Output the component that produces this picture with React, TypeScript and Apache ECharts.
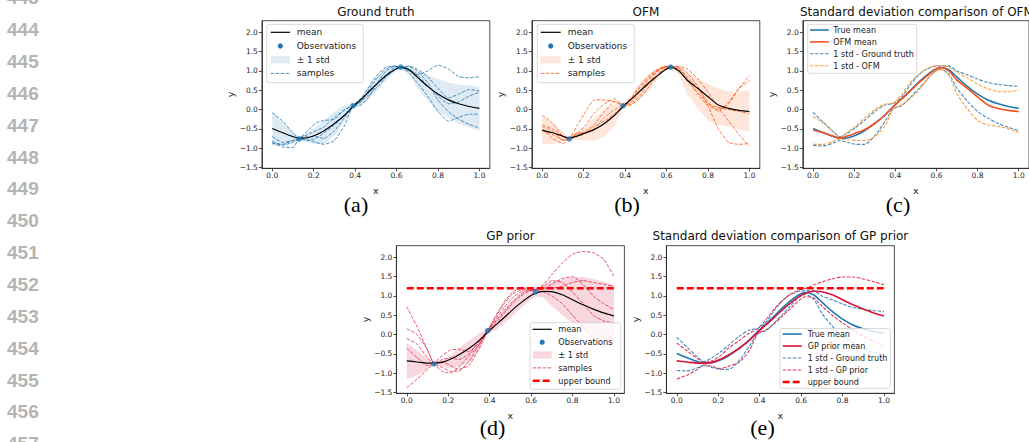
import React, { useEffect, useRef } from 'react';
import * as echarts from 'echarts';

// ---------- data ----------
const xs = [0, 0.05, 0.10, 0.13, 0.17, 0.21, 0.25, 0.30, 0.35, 0.39, 0.43, 0.47, 0.51, 0.55, 0.59, 0.62, 0.66, 0.70, 0.75, 0.80, 0.85, 0.90, 0.95, 1.00];
const xTicks = [0, 0.2, 0.4, 0.6, 0.8, 1.0];
const yTicks = [-1.5, -1.0, -0.5, 0, 0.5, 1.0, 1.5, 2.0];
const obsX = [0.13, 0.39, 0.62];
const obsY = [-0.76, 0.10, 1.10];
const upperBound = 1.2;

const gtMean = [-0.49, -0.60, -0.70, -0.74, -0.73, -0.66, -0.55, -0.36, -0.14, 0.08, 0.27, 0.48, 0.69, 0.88, 1.03, 1.09, 1.03, 0.84, 0.60, 0.40, 0.25, 0.15, 0.08, 0.03];
const gtUpper = [-0.07, -0.33, -0.58, -0.70, -0.60, -0.45, -0.28, -0.05, 0.12, 0.16, 0.32, 0.62, 0.88, 1.04, 1.12, 1.13, 1.13, 1.00, 0.90, 0.79, 0.70, 0.65, 0.62, 0.60];
const gtLower = [-0.93, -0.94, -0.86, -0.80, -0.85, -0.90, -0.90, -0.68, -0.30, 0.02, 0.10, 0.30, 0.52, 0.75, 0.97, 1.04, 0.92, 0.55, 0.22, -0.05, -0.22, -0.36, -0.46, -0.54];

const ofmMean = [-0.53, -0.60, -0.69, -0.74, -0.68, -0.60, -0.52, -0.36, -0.14, 0.08, 0.27, 0.47, 0.67, 0.85, 1.02, 1.09, 1.00, 0.76, 0.55, 0.33, 0.12, 0.03, -0.02, -0.05];
const ofmUpper = [-0.18, -0.35, -0.58, -0.72, -0.58, -0.42, -0.22, 0.00, 0.14, 0.17, 0.38, 0.68, 0.90, 1.05, 1.13, 1.14, 1.10, 0.96, 0.82, 0.66, 0.54, 0.47, 0.46, 0.50];
const ofmLower = [-0.90, -0.90, -0.82, -0.76, -0.78, -0.80, -0.80, -0.70, -0.42, 0.02, 0.12, 0.28, 0.48, 0.74, 0.98, 1.04, 0.90, 0.40, 0.02, -0.28, -0.40, -0.43, -0.50, -0.59];

const gpMean = [-0.68, -0.71, -0.74, -0.74, -0.72, -0.64, -0.53, -0.36, -0.15, 0.06, 0.25, 0.44, 0.64, 0.82, 0.98, 1.07, 1.12, 1.11, 1.03, 0.90, 0.77, 0.66, 0.56, 0.48];
const gpUpper = [-0.22, -0.42, -0.62, -0.72, -0.68, -0.55, -0.35, -0.16, 0.04, 0.15, 0.38, 0.66, 0.88, 1.05, 1.15, 1.19, 1.28, 1.36, 1.44, 1.49, 1.49, 1.44, 1.37, 1.29];
const gpLower = [-1.15, -1.05, -0.90, -0.79, -0.82, -0.88, -0.82, -0.72, -0.42, 0.02, 0.12, 0.28, 0.48, 0.68, 0.88, 0.98, 0.95, 0.74, 0.50, 0.30, 0.12, -0.04, -0.17, -0.30];

const gtSample1 = [-0.08, -0.30, -0.60, -0.74, -0.55, -0.35, -0.28, -0.25, 0.00, 0.10, 0.30, 0.62, 0.92, 1.10, 1.13, 1.10, 1.00, 0.90, 1.00, 1.15, 1.05, 0.85, 0.82, 0.85];
const gtSample2 = [-0.82, -0.92, -0.85, -0.75, -0.70, -0.70, -0.75, -0.55, -0.20, 0.08, 0.22, 0.40, 0.60, 0.85, 1.02, 1.10, 1.12, 1.05, 0.85, 0.55, 0.30, 0.40, 0.52, 0.48];
const gtSample3 = [-0.85, -0.97, -0.98, -0.76, -0.78, -0.85, -0.90, -0.80, -0.40, 0.10, 0.12, 0.35, 0.72, 1.00, 1.12, 1.10, 0.95, 0.70, 0.35, -0.05, -0.30, -0.20, -0.12, -0.12];
const gtSample4 = [-0.88, -0.90, -0.80, -0.75, -0.80, -0.75, -0.60, -0.40, -0.15, 0.10, 0.20, 0.55, 0.85, 1.05, 1.12, 1.11, 1.12, 1.00, 0.70, 0.25, -0.05, -0.25, -0.38, -0.48];
const gtSample5 = [-0.70, -0.85, -0.80, -0.74, -0.65, -0.55, -0.45, -0.20, 0.00, 0.10, 0.28, 0.50, 0.70, 0.90, 1.08, 1.10, 1.05, 0.90, 0.62, 0.35, 0.15, 0.20, 0.35, 0.45];

const ofmSample1 = [-0.15, -0.35, -0.70, -0.74, -0.40, -0.05, 0.25, 0.25, 0.20, 0.10, 0.30, 0.60, 0.85, 1.02, 1.12, 1.10, 1.05, 0.85, 0.55, 0.20, -0.05, 0.20, 0.55, 0.88];
const ofmSample2 = [-0.45, -0.55, -0.80, -0.76, -0.65, -0.55, -0.40, -0.05, 0.20, 0.12, 0.15, 0.35, 0.65, 0.95, 1.10, 1.11, 1.12, 1.05, 0.80, 0.45, 0.05, -0.30, -0.65, -0.95];
const ofmSample3 = [-0.50, -0.75, -0.88, -0.74, -0.60, -0.62, -0.50, -0.20, 0.00, 0.10, 0.12, 0.28, 0.55, 0.85, 1.08, 1.10, 1.10, 0.95, 0.60, 0.10, -0.50, -0.85, -0.90, -0.88];
const ofmSample4 = [-0.55, -0.65, -0.78, -0.75, -0.70, -0.60, -0.45, -0.30, -0.10, 0.08, 0.30, 0.55, 0.80, 1.00, 1.10, 1.12, 1.08, 0.80, 0.40, 0.10, 0.00, 0.15, 0.55, 0.75];
const ofmSample5 = [-0.40, -0.50, -0.70, -0.74, -0.62, -0.40, -0.10, 0.15, 0.28, 0.12, 0.20, 0.45, 0.75, 0.98, 1.12, 1.10, 1.00, 0.75, 0.45, 0.15, 0.05, 0.00, -0.05, -0.10];

const gpSample1 = [0.72, 0.20, -0.40, -0.75, -0.85, -0.95, -0.95, -0.70, -0.25, 0.10, 0.45, 0.80, 1.05, 1.15, 1.18, 1.15, 1.30, 1.55, 1.85, 2.08, 2.15, 2.12, 1.95, 1.50];
const gpSample2 = [-1.38, -1.15, -0.90, -0.75, -0.55, -0.40, -0.38, -0.45, -0.20, 0.10, 0.40, 0.70, 0.95, 1.10, 1.15, 1.15, 1.20, 1.30, 1.45, 1.50, 1.30, 1.00, 0.80, 0.65];
const gpSample3 = [0.15, 0.00, -0.40, -0.75, -0.95, -1.00, -0.85, -0.55, -0.25, 0.10, 0.50, 0.85, 1.10, 1.20, 1.20, 1.15, 1.10, 1.00, 0.80, 0.50, 0.20, -0.10, -0.35, 0.10];
const gpSample4 = [-0.10, -0.25, -0.60, -0.75, -0.70, -0.80, -0.90, -0.80, -0.35, 0.10, 0.35, 0.60, 0.85, 1.05, 1.15, 1.17, 1.25, 1.40, 1.35, 1.10, 0.80, 0.50, 0.35, 0.30];
const gpSample5 = [-0.35, -0.60, -0.80, -0.75, -0.65, -0.60, -0.65, -0.50, -0.15, 0.10, 0.30, 0.55, 0.80, 1.00, 1.12, 1.15, 1.18, 1.20, 1.25, 1.35, 1.40, 1.35, 1.30, 1.25];

const gtSamples = [gtSample1, gtSample2, gtSample3, gtSample4, gtSample5];
const ofmSamples = [ofmSample1, ofmSample2, ofmSample3, ofmSample4, ofmSample5];
const gpSamples = [gpSample1, gpSample2, gpSample3, gpSample4, gpSample5];

const titles = ['Ground truth', 'OFM', 'Standard deviation comparison of OFM', 'GP prior', 'Standard deviation comparison of GP prior'];
const captions = ['(a)', '(b)', '(c)', '(d)', '(e)'];
const lineNumbers = [443, 444, 445, 446, 447, 448, 449, 450, 451, 452, 453, 454, 455, 456, 457];

// ---------- styling ----------
const FONT = '"DejaVu Sans", sans-serif';
const BLUE = '#1f77b4';
const BLUE_BAND = 'rgba(31,119,180,0.15)';
const ORANGE_BAND = 'rgba(250,128,60,0.19)';
const PINK_BAND = 'rgba(220,20,60,0.17)';
const OFM_LINE = '#f5501f';
const OFM_STD = '#ff9f40';
const OFM_SAMPLE = '#ff4500';
const CRIMSON = '#dc143c';
const RED = '#ff0000';
const DASH = [3.5, 1.5];
const BOUND_DASH = [7, 3];

const grids = [
  { left: 261.9, top: 20.7, width: 227.9, height: 147.6 },
  { left: 531.9, top: 20.7, width: 227.9, height: 147.6 },
  { left: 802.8, top: 20.7, width: 228.2, height: 147.6 },
  { left: 396.4, top: 245.7, width: 228.0, height: 147.6 },
  { left: 666.4, top: 245.7, width: 228.0, height: 147.6 },
];

const fmt = (v: number) => (v < 0 ? '\u2212' + Math.abs(v).toFixed(1) : v.toFixed(1));

function pts(ys: number[]) {
  return xs.map((x, i) => [x, ys[i]]);
}

function line(idx: number, name: string, ys: number[], color: string, width: number, dash: any, opacity = 1, z = 3, smooth: any = 0.25) {
  return {
    type: 'line', name, xAxisIndex: idx, yAxisIndex: idx, data: pts(ys), showSymbol: false, symbol: 'none',
    smooth, z, silent: true,
    lineStyle: { color, width, type: dash || 'solid', opacity },
  };
}

function band(idx: number, lo: number[], hi: number[], color: string) {
  return {
    type: 'custom', xAxisIndex: idx, yAxisIndex: idx, z: 1, silent: true,
    data: xs.map((x, i) => [x, lo[i], hi[i]]),
    encode: { x: 0, y: [1, 2] },
    renderItem: (params: any, api: any) => {
      if (params.dataIndex !== 0) return null;
      const p: number[][] = [];
      for (let i = 0; i < xs.length; i++) p.push(api.coord([xs[i], hi[i]]));
      for (let i = xs.length - 1; i >= 0; i--) p.push(api.coord([xs[i], lo[i]]));
      return { type: 'polygon', shape: { points: p }, style: { fill: color } };
    },
  };
}

function obs(idx: number) {
  return {
    type: 'scatter', xAxisIndex: idx, yAxisIndex: idx, z: 6, silent: true,
    data: obsX.map((x, i) => [x, obsY[i]]), symbolSize: 5.5, itemStyle: { color: BLUE },
  };
}

function bound(idx: number) {
  return {
    type: 'line', xAxisIndex: idx, yAxisIndex: idx, z: 5, silent: true, showSymbol: false, symbol: 'none',
    data: [[0, upperBound], [1, upperBound]],
    lineStyle: { color: RED, width: 2.5, type: BOUND_DASH },
  };
}

type LegItem = { label: string; kind: 'line' | 'dot' | 'rect'; color: string; width?: number; dash?: number[]; opacity?: number };

function legend(bx: number, by: number, bw: number, bh: number, y0: number, gap: number, hx0: number, hx1: number, tx: number, fs: number, items: LegItem[]) {
  const children: any[] = [
    { type: 'rect', z: 100, shape: { x: bx, y: by, width: bw, height: bh, r: 2 }, style: { fill: 'rgba(255,255,255,0.8)', stroke: '#cfcfcf', lineWidth: 0.8 } },
  ];
  items.forEach((it, i) => {
    const cy = y0 + i * gap;
    if (it.kind === 'line') {
      children.push({ type: 'line', z: 101, shape: { x1: hx0, y1: cy, x2: hx1, y2: cy }, style: { stroke: it.color, lineWidth: it.width ?? 1.2, lineDash: it.dash ?? null, opacity: it.opacity ?? 1 } });
    } else if (it.kind === 'dot') {
      children.push({ type: 'circle', z: 101, shape: { cx: (hx0 + hx1) / 2, cy, r: 2.6 }, style: { fill: it.color } });
    } else {
      children.push({ type: 'rect', z: 101, shape: { x: hx0, y: cy - 3.6, width: hx1 - hx0, height: 7.2 }, style: { fill: it.color } });
    }
    children.push({ type: 'text', z: 101, x: tx, y: cy, style: { text: it.label, fill: '#222', fontSize: fs, fontFamily: FONT, textAlign: 'left', textVerticalAlign: 'middle', align: 'left', verticalAlign: 'middle' } });
  });
  return { type: 'group', children };
}

function text(t: string, x: number, y: number, fs: number, family: string, fill = '#000', weight = 'normal', align = 'center') {
  return { type: 'text', z: 50, x, y, style: { text: t, fill, fontSize: fs, fontFamily: family, fontWeight: weight, textAlign: align, textVerticalAlign: 'middle', align, verticalAlign: 'middle' } };
}

function buildOption() {
  const xAxis = grids.map((_, i) => ({
    gridIndex: i, type: 'value', min: -0.05, max: 1.05,
    name: 'x', nameLocation: 'middle', nameGap: 17,
    nameTextStyle: { fontSize: 9.5, color: '#222', fontFamily: FONT },
    axisLine: { show: true, onZero: false, lineStyle: { color: '#222', width: 0.8 } },
    axisTick: { show: true, inside: false, length: 3, customValues: xTicks, lineStyle: { color: '#222', width: 0.8 } },
    axisLabel: { show: true, customValues: xTicks, formatter: fmt, fontSize: 7.5, color: '#262626', fontFamily: FONT, margin: 3.5 },
    splitLine: { show: false },
  }));
  const yAxis = grids.map((_, i) => ({
    gridIndex: i, type: 'value', min: -1.52, max: 2.3,
    name: 'y', nameLocation: 'middle', nameGap: 25,
    nameTextStyle: { fontSize: 9.5, color: '#222', fontFamily: FONT },
    axisLine: { show: true, onZero: false, lineStyle: { color: '#222', width: 0.8 } },
    axisTick: { show: true, inside: false, length: 3, customValues: yTicks, lineStyle: { color: '#222', width: 0.8 } },
    axisLabel: { show: true, customValues: yTicks, formatter: fmt, fontSize: 7.5, color: '#262626', fontFamily: FONT, margin: 4 },
    splitLine: { show: false },
  }));

  const series: any[] = [];
  // (a) ground truth
  series.push(band(0, gtLower, gtUpper, BLUE_BAND));
  gtSamples.forEach((s) => series.push(line(0, 'samples', s, BLUE, 1, DASH, 0.8, 2, 0.15)));
  series.push(line(0, 'mean', gtMean, '#000', 1.2, null, 1, 4));
  series.push(obs(0));
  // (b) OFM
  series.push(band(1, ofmLower, ofmUpper, ORANGE_BAND));
  ofmSamples.forEach((s) => series.push(line(1, 'samples', s, OFM_SAMPLE, 1, DASH, 0.72, 2, 0.15)));
  series.push(line(1, 'mean', ofmMean, '#000', 1.2, null, 1, 4));
  series.push(obs(1));
  // (c) std comparison OFM
  series.push(line(2, 'True mean', gtMean, BLUE, 1.6, null, 1, 4));
  series.push(line(2, 'OFM mean', ofmMean, OFM_LINE, 1.6, null, 1, 4));
  series.push(line(2, '1 std - Ground truth', gtUpper, BLUE, 1.1, DASH, 0.85, 3));
  series.push(line(2, '1 std - Ground truth', gtLower, BLUE, 1.1, DASH, 0.85, 3));
  series.push(line(2, '1 std - OFM', ofmUpper, OFM_STD, 1.1, DASH, 1, 3));
  series.push(line(2, '1 std - OFM', ofmLower, OFM_STD, 1.1, DASH, 1, 3));
  // (d) GP prior
  series.push(band(3, gpLower, gpUpper, PINK_BAND));
  gpSamples.forEach((s) => series.push(line(3, 'samples', s, CRIMSON, 1, DASH, 0.72, 2, 0.15)));
  series.push(line(3, 'mean', gpMean, '#000', 1.2, null, 1, 4));
  series.push(obs(3));
  series.push(bound(3));
  // (e) std comparison GP prior
  series.push(line(4, 'True mean', gtMean, BLUE, 1.6, null, 1, 4));
  series.push(line(4, 'GP prior mean', gpMean, CRIMSON, 1.6, null, 1, 4));
  series.push(line(4, '1 std - Ground truth', gtUpper, BLUE, 1.1, DASH, 0.85, 3));
  series.push(line(4, '1 std - Ground truth', gtLower, BLUE, 1.1, DASH, 0.85, 3));
  series.push(line(4, '1 std - GP prior', gpUpper, CRIMSON, 1.1, DASH, 0.85, 3));
  series.push(line(4, '1 std - GP prior', gpLower, CRIMSON, 1.1, DASH, 0.85, 3));
  series.push(bound(4));

  const graphics: any[] = [];
  const titlePos = [[375.9, 11.5], [645.9, 11.5], [916.9, 11.5], [510.4, 236], [780.4, 236]];
  titles.forEach((t, i) => graphics.push(text(t, titlePos[i][0], titlePos[i][1], 12, FONT, '#111')));
  const capPos = [[356, 204], [627, 204], [898, 204], [492.5, 427.5], [762.5, 427.5]];
  captions.forEach((c, i) => graphics.push(text(c, capPos[i][0], capPos[i][1], 22, '"Liberation Serif", "Times New Roman", serif')));
  lineNumbers.forEach((n, i) => graphics.push(text(String(n), 7, -2.2 + i * 31.85, 19, '"Liberation Sans", Arial, sans-serif', '#b4b4b4', 'bold', 'left')));

  graphics.push(legend(266.7, 24.3, 96.6, 58.4, 32.3, 13.7, 270.7, 290, 296.7, 9, [
    { label: 'mean', kind: 'line', color: '#000' },
    { label: 'Observations', kind: 'dot', color: BLUE },
    { label: '\u00b1 1 std', kind: 'rect', color: BLUE_BAND },
    { label: 'samples', kind: 'line', color: BLUE, width: 1, dash: DASH, opacity: 0.8 },
  ]));
  graphics.push(legend(537.3, 24.3, 97, 58.4, 32.3, 13.7, 540.7, 560.7, 567.7, 9, [
    { label: 'mean', kind: 'line', color: '#000' },
    { label: 'Observations', kind: 'dot', color: BLUE },
    { label: '\u00b1 1 std', kind: 'rect', color: ORANGE_BAND },
    { label: 'samples', kind: 'line', color: OFM_SAMPLE, width: 1, dash: DASH, opacity: 0.72 },
  ]));
  graphics.push(legend(807.7, 24.3, 109, 49, 30, 11.9, 810, 828.7, 833.3, 8.1, [
    { label: 'True mean', kind: 'line', color: BLUE, width: 1.6 },
    { label: 'OFM mean', kind: 'line', color: OFM_LINE, width: 1.6 },
    { label: '1 std - Ground truth', kind: 'line', color: BLUE, width: 1.1, dash: DASH, opacity: 0.85 },
    { label: '1 std - OFM', kind: 'line', color: OFM_STD, width: 1.1, dash: DASH },
  ]));
  graphics.push(legend(530, 322.7, 90.7, 66.6, 329.3, 12.85, 532.7, 551.7, 558.3, 8.2, [
    { label: 'mean', kind: 'line', color: '#000' },
    { label: 'Observations', kind: 'dot', color: BLUE },
    { label: '\u00b1 1 std', kind: 'rect', color: PINK_BAND },
    { label: 'samples', kind: 'line', color: CRIMSON, width: 1, dash: DASH, opacity: 0.72 },
    { label: 'upper bound', kind: 'line', color: RED, width: 2.5, dash: BOUND_DASH },
  ]));
  graphics.push(legend(780, 328.5, 110.3, 59.8, 334, 12, 782.7, 801.7, 807.7, 8, [
    { label: 'True mean', kind: 'line', color: BLUE, width: 1.6 },
    { label: 'GP prior mean', kind: 'line', color: CRIMSON, width: 1.6 },
    { label: '1 std - Ground truth', kind: 'line', color: BLUE, width: 1.1, dash: DASH, opacity: 0.85 },
    { label: '1 std - GP prior', kind: 'line', color: CRIMSON, width: 1.1, dash: DASH, opacity: 0.85 },
    { label: 'upper bound', kind: 'line', color: RED, width: 2.5, dash: BOUND_DASH },
  ]));

  return {
    animation: false,
    backgroundColor: '#ffffff',
    textStyle: { fontFamily: FONT },
    grid: grids.map((g) => ({ ...g, show: true, borderColor: '#222', borderWidth: 0.8, backgroundColor: 'transparent', containLabel: false })),
    xAxis,
    yAxis,
    series,
    graphic: graphics,
  };
}

export default function App() {
  const ref = useRef<HTMLDivElement>(null);
  useEffect(() => {
    const chart = echarts.init(ref.current as HTMLDivElement, null, { renderer: 'svg', width: 1029, height: 442 });
    chart.setOption(buildOption() as any);
    return () => chart.dispose();
  }, []);
  return <div ref={ref} style={{ position: 'absolute', left: 0, top: 0, width: 1029, height: 442, overflow: 'hidden' }} />;
}
